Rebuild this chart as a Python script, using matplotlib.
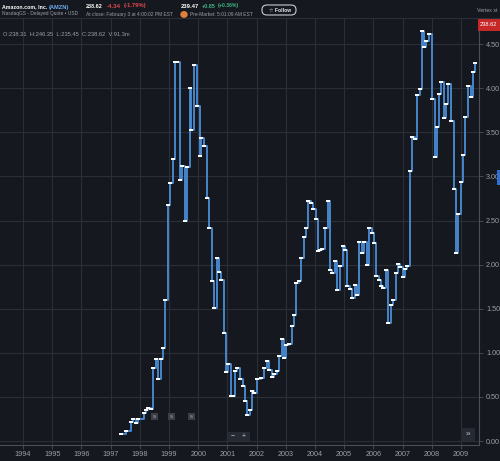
import matplotlib
matplotlib.use("Agg")
import matplotlib.pyplot as plt
from matplotlib.patches import FancyBboxPatch, Rectangle

plt.rcParams["font.family"] = ["Liberation Sans", "DejaVu Sans"]

# ---- data (step start, fractional year) ----
dates = [1997.37, 1997.51, 1997.69, 1997.78, 1997.87, 1997.94, 1998.13, 1998.21, 1998.29, 1998.38,
         1998.46, 1998.55, 1998.63, 1998.72, 1998.78, 1998.86, 1998.95, 1999.04, 1999.12, 1999.20,
         1999.29, 1999.37, 1999.46, 1999.54, 1999.63, 1999.71, 1999.77, 1999.86, 1999.97, 2000.05,
         2000.11, 2000.21, 2000.29, 2000.37, 2000.46, 2000.54, 2000.63, 2000.71, 2000.78, 2000.88,
         2000.95, 2001.03, 2001.11, 2001.20, 2001.26, 2001.34, 2001.43, 2001.52, 2001.60, 2001.68,
         2001.77, 2001.86, 2001.92, 2002.02, 2002.14, 2002.26, 2002.34, 2002.43, 2002.53, 2002.59,
         2002.69, 2002.78, 2002.86, 2002.94, 2003.02, 2003.12, 2003.20, 2003.28, 2003.36, 2003.45,
         2003.53, 2003.61, 2003.69, 2003.77, 2003.86, 2003.94, 2004.02, 2004.10, 2004.18, 2004.25,
         2004.35, 2004.45, 2004.53, 2004.59, 2004.69, 2004.77, 2004.86, 2004.95, 2005.02, 2005.11,
         2005.19, 2005.28, 2005.36, 2005.43, 2005.52, 2005.60, 2005.68, 2005.77, 2005.86, 2005.94,
         2006.02, 2006.10, 2006.18, 2006.26, 2006.34, 2006.42, 2006.51, 2006.60, 2006.68, 2006.76,
         2006.85, 2006.93, 2007.00, 2007.08, 2007.16, 2007.25, 2007.34, 2007.43, 2007.51, 2007.59,
         2007.66, 2007.73, 2007.81, 2007.89, 2008.00, 2008.10, 2008.17, 2008.25, 2008.33, 2008.41,
         2008.49, 2008.57, 2008.66, 2008.75, 2008.83, 2008.91, 2008.99, 2009.07, 2009.15, 2009.24,
         2009.33, 2009.40, 2009.48]
values = [0.075, 0.113, 0.215, 0.253, 0.20, 0.245, 0.313, 0.351, 0.377, 0.366,
          0.83, 0.925, 0.70, 0.925, 1.05, 1.60, 2.675, 2.92, 3.20, 4.30,
          4.30, 2.96, 3.12, 2.50, 3.11, 4.00, 3.53, 4.26, 3.80, 3.23,
          3.44, 3.35, 2.75, 2.41, 1.81, 1.51, 2.07, 1.92, 1.83, 1.23,
          0.78, 0.87, 0.51, 0.51, 0.79, 0.83, 0.705, 0.62, 0.45, 0.29,
          0.35, 0.57, 0.54, 0.705, 0.71, 0.83, 0.905, 0.80, 0.725, 0.755,
          0.79, 0.96, 1.16, 0.94, 1.09, 1.105, 1.30, 1.43, 1.79, 1.815,
          2.08, 2.31, 2.42, 2.72, 2.70, 2.63, 2.52, 2.15, 2.16, 2.18,
          2.42, 2.72, 1.94, 1.91, 2.04, 1.71, 1.98, 2.21, 2.16, 1.755,
          1.72, 1.62, 1.77, 1.65, 2.26, 2.13, 2.26, 1.99, 2.42, 2.36,
          2.24, 1.87, 1.82, 1.755, 1.73, 1.94, 1.34, 1.54, 1.60, 1.90,
          2.01, 1.97, 1.86, 1.95, 1.985, 3.06, 3.45, 3.42, 3.92, 3.99,
          4.65, 4.47, 4.53, 4.62, 3.88, 3.22, 3.56, 3.93, 4.07, 3.66,
          3.82, 4.045, 3.63, 2.86, 2.13, 2.57, 2.94, 3.24, 3.67, 4.03,
          3.90, 4.18, 4.29]
year_ticks = list(range(1994, 2010))
y_ticks = [0.0, 0.5, 1.0, 1.5, 2.0, 2.5, 3.0, 3.5, 4.0, 4.5]

BG = "#15181e"
GRID = "#2a2e36"
TXT = "#9aa0a8"
LINE = "#4a8ed8"

W, H = 500, 461
fig = plt.figure(figsize=(W / 100, H / 100), dpi=100, facecolor=BG)
renderer = fig.canvas.get_renderer()

def fx(px):
    return px / W

def fy(py):
    return 1 - py / H

def fit_text(x0, x1, y, s, color, weight="normal", fs=5.0):
    t = fig.text(fx(x0), fy(y), s, color=color, fontsize=fs, fontweight=weight, va="center")
    bb = t.get_window_extent(renderer)
    if bb.width > 0:
        t.set_fontsize(fs * (x1 - x0) / bb.width)
    return t

ax = fig.add_axes([0, fy(445), fx(479), fy(18) - fy(445)])
ax.set_facecolor(BG)
ax.set_xlim(1993.21, 2009.62)
ax.set_ylim((441 - 445) / 88.2, (441 - 18) / 88.2)

ax.step(dates, values, where="post", color=LINE, lw=1.3, zorder=3)
ax.plot(dates, values, ls="none", marker="_", color="white", ms=3, mew=1.4, zorder=4)

ax.set_xticks(year_ticks)
ax.set_xticklabels([str(y) for y in year_ticks])
ax.set_yticks(y_ticks)
ax.set_yticklabels([f"{v:.2f}" for v in y_ticks])
ax.yaxis.tick_right()
ax.tick_params(axis="both", colors=TXT, labelsize=5.2, length=3, width=0.6, color="#4a4f58")
ax.tick_params(axis="y", length=3, pad=2)
ax.tick_params(axis="x", pad=1.5)
ax.grid(True, color=GRID, lw=0.8)
for s in ["top", "left"]:
    ax.spines[s].set_visible(False)
for s in ["right", "bottom"]:
    ax.spines[s].set_color("#4a4f58")
    ax.spines[s].set_linewidth(0.8)

# separator line under header
fig.add_artist(plt.Line2D([0, 1], [fy(18), fy(18)], color=GRID, lw=0.8))

# header text
fit_text(2, 47, 7, "Amazon.com, Inc.", "white", "bold")
fit_text(49, 70, 7, "(AMZN)", "#6ea8f0", "bold")
fit_text(2, 79, 14, "NasdaqGS - Delayed Quote • USD", TXT)
fit_text(86, 103, 6, "238.62", "white", "bold")
fit_text(107, 121, 6, "-4.34", "#e5484d", "bold")
fit_text(124, 147, 6, "(-1.79%)", "#e5484d", "bold")
fit_text(86, 175, 14.5, "At close: February 3 at 4:00:02 PM EST", TXT)
fit_text(181, 199, 6, "239.47", "white", "bold")
fit_text(202, 216, 6, "+0.85", "#3fb27f", "bold")
fit_text(218, 239, 6, "(+0.36%)", "#3fb27f", "bold")
fig.add_artist(plt.Circle((fx(184), fy(14.5)), 0.006, transform=fig.transFigure, color="#e0803a"))
fit_text(190, 254, 14.5, "Pre-Market: 5:01:09 AM EST", TXT)
fig.add_artist(FancyBboxPatch((fx(262), fy(15)), fx(34), fy(5) - fy(15),
                              boxstyle="round,pad=0,rounding_size=0.01",
                              transform=fig.transFigure, fc="none", ec="#c8ccd2", lw=0.8))
fit_text(269, 291, 10, "☆ Follow", "#e8eaee", "bold")
fit_text(477, 498, 10, "Vertex st", TXT)
fit_text(3, 133, 34, "O:238.31  H:246.35  L:235.45  C:238.62  V:91.3m", TXT)

# price tag at right
fig.add_artist(Rectangle((fx(478), fy(31)), fx(22), fy(19) - fy(31), transform=fig.transFigure,
                         fc="#c62828", ec="none"))
fit_text(480, 498, 25, "238.62", "white")
fig.add_artist(Rectangle((fx(497), fy(185)), fx(3), fy(170) - fy(185), transform=fig.transFigure,
                         fc="#2f6fd0", ec="none"))

# small badges
for bx in [154, 171, 191]:
    fig.add_artist(Rectangle((fx(bx - 3.5), fy(420)), fx(7), fy(413) - fy(420),
                             transform=fig.transFigure, fc="#3a3f48", ec="none"))
    fig.text(fx(bx), fy(416.5), "S", color="#c0c4ca", fontsize=3.2, va="center", ha="center")

# zoom buttons
fig.add_artist(Rectangle((fx(228), fy(441)), fx(22), fy(432) - fy(441),
                         transform=fig.transFigure, fc="#262b33", ec="none"))
fig.text(fx(233), fy(436.5), "−", color="#c0c4ca", fontsize=5, va="center", ha="center")
fig.text(fx(244), fy(436.5), "+", color="#c0c4ca", fontsize=5, va="center", ha="center")
fig.add_artist(Rectangle((fx(461), fy(441)), fx(14), fy(428) - fy(441),
                         transform=fig.transFigure, fc="#262b33", ec="none"))
fig.text(fx(468), fy(434.5), "»", color="#c0c4ca", fontsize=6, va="center", ha="center")

fig.savefig("out.png", dpi=100, facecolor=BG)
